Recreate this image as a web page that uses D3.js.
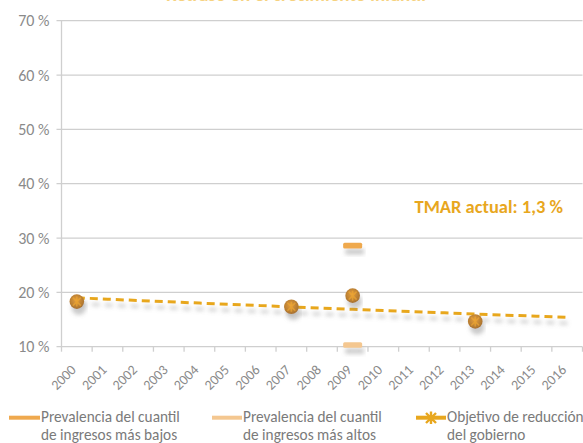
<!DOCTYPE html>
<html>
<head>
<meta charset="utf-8">
<script src="https://cdn.jsdelivr.net/npm/d3@7"></script>
<style>
  html, body { margin: 0; padding: 0; background: #fff; }
  svg { display: block; }
  text { font-family: Carlito, Calibri, Lato, "Open Sans", sans-serif; }
</style>
</head>
<body>
<svg id="chart" width="583" height="443"></svg>
<script>
const years = ["2000","2001","2002","2003","2004","2005","2006","2007","2008","2009","2010","2011","2012","2013","2014","2015","2016"];
const yTicks = [10, 20, 30, 40, 50, 60, 70];
const lowestYears = ["2009"];
const lowestValues = [28.6];
const highestYears = ["2009"];
const highestValues = [10.3];
const nationalYears = ["2000", "2007", "2009", "2013"];
const nationalValues = [18.3, 17.35, 19.4, 14.65];
const targetValues = [19.0, 18.75, 18.5, 18.26, 18.03, 17.79, 17.56, 17.33, 17.1, 16.88, 16.66, 16.45, 16.23, 16.02, 15.81, 15.61, 15.41];
const legendLabels = [
  ["Prevalencia del cuantil", "de ingresos más bajos"],
  ["Prevalencia del cuantil", "de ingresos más altos"],
  ["Objetivo de reducción", "del gobierno"]
];
const annotation = "TMAR actual: 1,3 %";
const titleText = "Retraso en el crecimiento infantil";

const svg = d3.select("#chart");
const x = d3.scaleBand().domain(years).range([61.5, 582.5]).padding(0);
const y = d3.scaleLinear().domain([10, 70]).range([346.7, 20.7]);

const defs = svg.append("defs");
const f = defs.append("filter").attr("id", "shadow").attr("x", "-20%").attr("y", "-50%").attr("width", "140%").attr("height", "300%");
f.append("feDropShadow").attr("dx", 2).attr("dy", 6).attr("stdDeviation", 2.2)
  .attr("flood-color", "#7a7a7a").attr("flood-opacity", 0.4);
const g = defs.append("radialGradient").attr("id", "ball").attr("cx", "45%").attr("cy", "40%").attr("r", "60%");
g.append("stop").attr("offset", "0%").attr("stop-color", "#E49E3E");
g.append("stop").attr("offset", "100%").attr("stop-color", "#A8722E");

// title (cut off at top in the reference)
svg.append("text").attr("x", 296).attr("y", 0.8).attr("text-anchor", "middle")
  .attr("font-size", 19).attr("font-weight", "bold").attr("fill", "#F6D27F").text(titleText);

// gridlines
svg.append("g").selectAll("line").data(yTicks).join("line")
  .attr("x1", 56.5).attr("x2", 582.5)
  .attr("y1", d => y(d)).attr("y2", d => y(d))
  .attr("stroke", "#cfcfcf").attr("stroke-width", 1.3);

// y axis line
svg.append("line").attr("x1", 61.5).attr("x2", 61.5).attr("y1", y(70)).attr("y2", y(10))
  .attr("stroke", "#cfcfcf").attr("stroke-width", 1.3);

// y tick labels
const yAxis = d3.axisLeft(y).tickValues(yTicks).tickSize(0).tickPadding(12).tickFormat(d => d + " %");
const yg = svg.append("g").attr("transform", "translate(61.5,0)").call(yAxis);
yg.select(".domain").remove();
yg.selectAll("text").attr("font-size", 16).attr("fill", "#8a8a8a").attr("font-family", "Carlito, Calibri, Lato, sans-serif");

// x boundary ticks
const bounds = years.map(d => x(d)).concat([x.range()[1]]);
svg.append("g").selectAll("line").data(bounds).join("line")
  .attr("x1", d => d).attr("x2", d => d).attr("y1", y(10)).attr("y2", y(10) + 5)
  .attr("stroke", "#cfcfcf").attr("stroke-width", 1.3);

// x labels
const xAxis = d3.axisBottom(x).tickSize(0).tickPadding(0);
const xg = svg.append("g").attr("transform", `translate(0,${y(10)})`).call(xAxis);
xg.select(".domain").remove();
xg.selectAll("text")
  .attr("font-size", 14).attr("fill", "#8a8a8a").attr("font-family", "Carlito, Calibri, Lato, sans-serif")
  .attr("text-anchor", "end").attr("dy", 0)
  .attr("transform", "translate(0,24) rotate(-45)");

// target dashed line
const line = d3.line().x(d => x(d.year) + x.bandwidth() / 2).y(d => y(d.value));
const targetData = years.map((yr, i) => ({ year: yr, value: targetValues[i] }));
svg.append("path").datum(targetData).attr("d", line)
  .attr("fill", "none").attr("stroke", "#E8A71E").attr("stroke-width", 3)
  .attr("stroke-dasharray", "8,5").attr("filter", "url(#shadow)");

// national markers
const natData = nationalYears.map((yr, i) => ({ year: yr, value: nationalValues[i] }));
const ng = svg.append("g").selectAll("g").data(natData).join("g")
  .attr("transform", d => `translate(${x(d.year) + x.bandwidth() / 2},${y(d.value)})`)
  .attr("filter", "url(#shadow)");
ng.append("circle").attr("r", 7.3).attr("fill", "url(#ball)");
ng.append("path").attr("d", "M-4,-4L4,4M-4,4L4,-4M0,-5L0,5")
  .attr("stroke", "#F0A830").attr("stroke-width", 1.5).attr("opacity", 0.65);

// quintile dash markers
const lowData = lowestYears.map((yr, i) => ({ year: yr, value: lowestValues[i] }));
const highData = highestYears.map((yr, i) => ({ year: yr, value: highestValues[i] }));
function dashMarks(data, color) {
  svg.append("g").selectAll("rect").data(data).join("rect")
    .attr("x", d => x(d.year) + x.bandwidth() / 2 - 9.5)
    .attr("y", d => y(d.value) - 2.8)
    .attr("width", 19).attr("height", 5.6).attr("rx", 1.5)
    .attr("fill", color).attr("filter", "url(#shadow)");
}
dashMarks(lowData, "#EFA94E");
dashMarks(highData, "#F4C790");

// annotation
svg.append("text").attr("x", 563).attr("y", 213).attr("text-anchor", "end")
  .attr("font-size", 18.5).attr("font-weight", "bold").attr("fill", "#E8A71E").text(annotation);

// legend
const legendLineX = [[9, 40], [212, 242], [416, 446]];
const legendTextX = [41, 243, 447];
const legendColors = ["#EFA94E", "#F4C790", "#E8A71E"];
const lg = svg.append("g").selectAll("g").data(legendLabels).join("g");
lg.append("line").attr("x1", (d, i) => legendLineX[i][0]).attr("x2", (d, i) => legendLineX[i][1])
  .attr("y1", 417.7).attr("y2", 417.7)
  .attr("stroke", (d, i) => legendColors[i]).attr("stroke-width", 4);
lg.filter((d, i) => i === 2).append("path")
  .attr("d", "M426,413L436,423M426,423L436,413M431,411.5L431,424")
  .attr("stroke", "#E8A71E").attr("stroke-width", 2.4);
lg.append("text").attr("x", (d, i) => legendTextX[i]).attr("y", 421.5)
  .attr("font-size", 15.3).attr("fill", "#7a7a7a")
  .selectAll("tspan").data(d => d).join("tspan")
  .attr("x", function() { return d3.select(this.parentNode).attr("x"); })
  .attr("dy", (d, i) => i === 0 ? 0 : 18.3).text(d => d);
</script>
</body>
</html>
